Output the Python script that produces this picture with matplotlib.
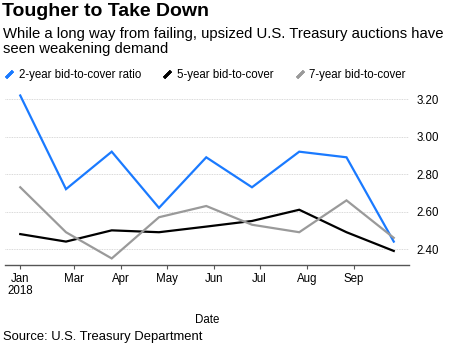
import numpy as np
import pandas as pd
import matplotlib
matplotlib.use("Agg")
import matplotlib.pyplot as plt
import matplotlib.dates as mdates
from matplotlib.lines import Line2D

plt.rcParams["font.family"] = ["Liberation Sans", "DejaVu Sans"]

#%% Auction results
dates = pd.to_datetime([
    "2018-01-25", "2018-02-24", "2018-03-26", "2018-04-26", "2018-05-27",
    "2018-06-26", "2018-07-27", "2018-08-27", "2018-09-27",
])
two_year = [3.22, 2.72, 2.92, 2.62, 2.89, 2.73, 2.92, 2.89, 2.44]
five_year = [2.48, 2.44, 2.50, 2.49, 2.52, 2.55, 2.61, 2.49, 2.39]
seven_year = [2.73, 2.49, 2.35, 2.57, 2.63, 2.53, 2.49, 2.66, 2.46]

series = {
    "2-year bid-to-cover ratio": (two_year, "#1a7aff"),
    "5-year bid-to-cover": (five_year, "#000000"),
    "7-year bid-to-cover": (seven_year, "#9a9a9a"),
}

tick_dates = pd.to_datetime([
    "2018-01-25", "2018-03-01", "2018-04-01", "2018-05-01",
    "2018-06-01", "2018-07-01", "2018-08-01", "2018-09-01",
])
tick_labels = ["Jan\n2018", "Mar", "Apr", "May", "Jun", "Jul", "Aug", "Sep"]
y_ticks = [2.40, 2.60, 2.80, 3.00, 3.20]

#%% Figure
W, H = 450, 347
fig = plt.figure(figsize=(W / 100, H / 100), dpi=100)
ax = fig.add_axes([5 / W, 1 - 265 / H, 404 / W, 177 / H])

for name, (vals, color) in series.items():
    ax.plot(dates, vals, color=color, lw=1.6, solid_joinstyle="miter")

ax.set_xlim(pd.Timestamp("2018-01-15"), pd.Timestamp("2018-10-07"))
ax.set_ylim(2.315, 3.26)

ax.set_xticks(tick_dates)
ax.set_xticklabels(tick_labels, fontsize=8.3, linespacing=1.0)
ax.set_yticks(y_ticks)
ax.set_yticklabels([f"{v:.2f}" for v in y_ticks], fontsize=8.3)
ax.yaxis.tick_right()
ax.tick_params(axis="y", length=0, pad=5.5)
ax.tick_params(axis="x", length=3, width=0.8, color="#555555", pad=3)

ax.grid(axis="y", color="#cccccc", lw=0.6, ls=(0, (1, 1)))
for side in ["top", "left", "right"]:
    ax.spines[side].set_visible(False)
ax.spines["bottom"].set_color("#555555")
ax.spines["bottom"].set_linewidth(1.0)
ax.set_xlabel("Date", fontsize=8.3, labelpad=12)

#%% Titles and legend
fig.text(2 / W, 1 - 3 / H, "Tougher to Take Down", fontsize=14, fontweight="bold",
         va="top", ha="left")
fig.text(3 / W, 1 - 27 / H,
         "While a long way from failing, upsized U.S. Treasury auctions have\nseen weakening demand",
         fontsize=10.7, va="top", ha="left", linespacing=1.12)

handles = [
    Line2D([], [], color=c, marker=(2, 2, -45), ls="none", markersize=7, mew=2)
    for _, c in series.values()
]
fig.legend(handles, list(series.keys()), loc="center left",
           bbox_to_anchor=(4 / W, 1 - 75 / H), ncol=3, frameon=False,
           fontsize=8.3, handlelength=0.9, handletextpad=0.4, columnspacing=1.8,
           borderaxespad=0, borderpad=0)

fig.text(3 / W, 1 - 337 / H, "Source: U.S. Treasury Department", fontsize=9.4,
         va="center", ha="left")

fig.savefig("out.png", dpi=100)
